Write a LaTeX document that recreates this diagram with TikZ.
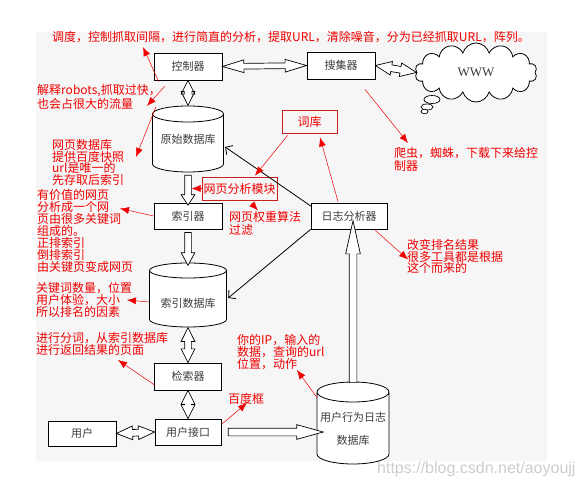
\documentclass[tikz,border=0pt]{standalone}
\usepackage{fontspec}
\setmainfont{Noto Sans CJK SC}
\newfontfamily\wwwfont{Liberation Serif}
\newfontfamily\markfont{Liberation Sans}
\usepackage{tikz}
\usetikzlibrary{shapes,arrows.meta,calc}
\definecolor{bggrey}{RGB}{246,246,246}
\definecolor{boxtext}{RGB}{60,60,60}
\definecolor{notered}{RGB}{240,0,0}
\definecolor{framered}{RGB}{200,30,30}
\definecolor{markgrey}{RGB}{205,205,205}

\begin{document}
\begin{tikzpicture}[x=1pt,y=-1pt,
  every node/.append style={inner sep=0pt},
  hollow/.style={to path={let \p1=(\tikztostart), \p2=(\tikztotarget),
      \n1={veclen(\x2-\x1,\y2-\y1)}, \n2={atan2(\y2-\y1,\x2-\x1)} in
    node[#1,draw,fill=white,line width=0.7pt,minimum height=\n1,rotate=\n2]
      at ($(\p1)!0.5!(\p2)$) {}}},
  db/.style={text=boxtext,align=center,font=\fontsize{11}{11}\selectfont,
    path picture={\draw[line width=0.8pt,fill=white]
      let \p1=(path picture bounding box.north west), \p2=(path picture bounding box.south east),
        \n1={(\x2-\x1)/2-0.5pt} in
      (\x1+0.5pt,\y1-#1pt-0.5pt) -- (\x1+0.5pt,\y2+#1pt+0.5pt)
      arc[start angle=180,end angle=360,x radius=\n1,y radius=#1pt]
      -- (\x2-0.5pt,\y1-#1pt-0.5pt)
      arc[start angle=0,end angle=180,x radius=\n1,y radius=#1pt] -- cycle
      (\x1+0.5pt,\y1-#1pt-0.5pt) arc[start angle=180,end angle=360,x radius=\n1,y radius=#1pt];}}]
  \tikzstyle{block} = [draw,line width=0.8pt,fill=white,text=boxtext,font=\fontsize{11}{11}\selectfont]
  \tikzstyle{frame} = [draw=framered,line width=0.8pt,text=notered,font=\fontsize{12}{12}\selectfont]
  \tikzstyle{note} = [anchor=north west,align=left,text=notered,font=\fontsize{12}{12}\selectfont]
  \tikzstyle{pointer} = [draw=notered,line width=0.5pt,-{Latex[length=9pt,width=7pt]}]
  \tikzstyle{flow} = [draw,line width=0.8pt,-{Straight Barb[length=5pt,width=11pt]}]
  \tikzstyle{onehead} = [single arrow,inner sep=3pt,single arrow head extend=3.5pt]
  \tikzstyle{twohead} = [double arrow,inner sep=3pt,double arrow head extend=3.5pt]
  \useasboundingbox (0,0) rectangle (581,486);
  \fill[bggrey] (36,32) rectangle (547,461);
  \node (mark) [anchor=west,text=markgrey,font=\markfont\fontsize{16}{16}\selectfont] at (377,469) {https://blog.csdn.net/aoyoujj};

  \node (ctrl) [block,minimum width=68,minimum height=27] at (188,66.5) {控制器};
  \node (collect) [block,minimum width=68,minimum height=27] at (341,65.5) {搜集器};
  \node (www) [cloud,cloud puffs=14,aspect=2,draw,line width=0.8pt,fill=white,minimum width=122,minimum height=59,
    text=boxtext,font=\wwwfont\fontsize{13}{13}\selectfont] at (476,72.5) {WWW};
  \draw[line width=0.7pt,fill=white] (432,99.5) ellipse (8pt and 4pt);
  \draw[line width=0.7pt,fill=white] (427,107) ellipse (6pt and 3pt);
  \draw[line width=0.7pt,fill=white] (424.5,111.5) ellipse (3.5pt and 2.2pt);
  \node (rawdb) [db=8,minimum width=72,minimum height=67] at (188,139) {原始数据库};
  \node (dict) [frame,minimum width=55,minimum height=23] at (309.5,121.5) {词库};
  \node (module) [frame,minimum width=75,minimum height=23] at (239.5,188.5) {网页分析模块};
  \node (indexer) [block,minimum width=68,minimum height=26] at (188,216) {索引器};
  \node (logana) [block,minimum width=76,minimum height=26] at (349,216) {日志分析器};
  \node (indexdb) [db=7.5,minimum width=78,minimum height=65] at (188,295) {\rule{0pt}{25pt}索引数据库};
  \node (search) [block,minimum width=67,minimum height=27] at (188,376.5) {检索器};
  \node (ui) [block,minimum width=66,minimum height=26] at (188,432) {用户接口};
  \node (user) [block,minimum width=68,minimum height=25] at (82,433.5) {用户};
  \node (userdb) [db=10,minimum width=73,minimum height=83] at (353,423) {\rule{0pt}{20pt}用户行为日志\\[12pt]数据库};

  \path (ctrl.east) to[hollow={twohead,inner sep=2.5pt,double arrow tip angle=33}] (collect.west);
  \path (collect.east) to[hollow={twohead,double arrow tip angle=46}] (www.west);
  \path (ctrl.south) to[hollow={twohead,inner sep=3.5pt,double arrow head extend=3pt,double arrow tip angle=53}] (rawdb.north);
  \path (rawdb.south) to[hollow={onehead,single arrow tip angle=67}] (indexer.north);
  \path (indexer.south) to[hollow={onehead,single arrow tip angle=57}] (indexdb.north);
  \path (indexdb.south) to[hollow={twohead,double arrow tip angle=53}] (search.north);
  \path (search.south) to[hollow={twohead,double arrow tip angle=53}] (ui.north);
  \path (user.east) to[hollow={twohead,double arrow tip angle=46}] (ui.west);
  \path (ui.east) to[hollow={onehead,inner sep=3.5pt,single arrow tip angle=31}] (ui.east -| userdb.west);
  \path ($(userdb.north)+(0,10)$) to[hollow={onehead,inner sep=3.5pt,single arrow tip angle=25}] (userdb.north |- logana.south);

  \draw[flow] ($(logana.north west)+(1,4)$) -- ($(rawdb.east)+(1,8)$);
  \draw[flow] (logana.south west) -- ($(indexdb.east)+(1,3)$);

  \node (t1) [note] at (52,31.5) {调度，控制抓取间隔，进行简直的分析，提取URL，清除噪音，分为已经抓取URL，阵列。};
  \node (t2) [note] at (37,84.5) {解释robots,抓取过快，\\也会占很大的流量};
  \node (t3) [note,font=\fontsize{12}{11.5}\selectfont] at (52,139.5) {网页数据库\\提供百度快照\\url是唯一的\\先存取后索引};
  \node (t4) [note] at (37,189.5) {有价值的网页\\分析成一个网\\页由很多关键词\\组成的。\\正排索引\\倒排索引\\由关键页变成网页};
  \node (t5) [note] at (36,282.5) {关键词数量，位置\\用户体验，大小\\所以排名的因素};
  \node (t6) [note] at (36,332.5) {进行分词，从索引数据库\\进行返回结果的页面};
  \node (t7) [note,font=\fontsize{12}{13}\selectfont] at (394,147.5) {爬虫，蜘蛛，下载下来给控\\制器};
  \node (t8) [note,font=\fontsize{12}{13}\selectfont] at (229,211.5) {网页权重算法\\过滤};
  \node (t9) [note,font=\fontsize{12}{11.5}\selectfont] at (407,239.5) {改变排名结果\\很多工具都是根据\\这个而来的};
  \node (t10) [note] at (237,334.5) {你的IP，输入的\\数据，查询的url\\位置，动作};
  \node (t11) [note] at (228,393.5) {百度框};

  \draw[pointer] ($(ctrl.south west)+(5,1)$) -- ($(t1.north west)+(91,15.5)$);
  \draw[pointer] ($(ctrl.south west)+(11,6)$) -- ($(t2.north west)+(110,21.5)$);
  \draw[pointer] ($(rawdb.west)+(4,-32)$) -- ($(t3.north west)+(84,17.5)$);
  \draw[pointer] ($(collect.south)+(24,10)$) -- ($(t7.north west)+(14,-4.5)$);
  \draw[pointer] ($(dict.south west)+(6,2)$) -- ($(module.north)+(15.5,-1)$);
  \draw[pointer] (module.west) -- ($(module.west)+(-10,0)$);
  \draw[pointer] ($(module.south)+(12,3)$) -- ($(t8.north west)+(29,-1)$);
  \draw[pointer] ($(logana.north)+(-11,-1)$) -- ($(dict.south)+(10.5,4)$);
  \draw[pointer] ($(logana.south east)+(-12,1)$) -- ($(t9.north west)+(1,20)$);
  \draw[pointer] (indexer.west) -- ($(t4.north west)+(83,19)$);
  \draw[pointer] ($(indexdb.west)+(0,7)$) -- ($(t5.north west)+(91,17.5)$);
  \draw[pointer] ($(search.south west)+(1,-5)$) -- ($(t6.north west)+(82,27.5)$);
  \draw[pointer] ($(ui.north east)+(1,5)$) -- ($(t11.north west)+(19,9.5)$);
  \draw[pointer] ($(userdb.west)+(1,-25)$) -- ($(t10.north west)+(60,35.5)$);
\end{tikzpicture}
\end{document}
